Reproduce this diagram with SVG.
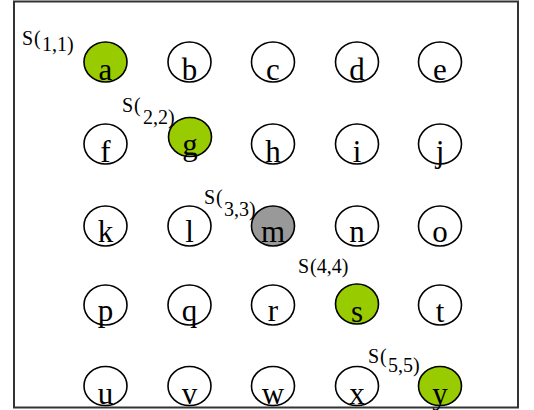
<svg xmlns="http://www.w3.org/2000/svg" width="534" height="410" viewBox="0 0 534 410">
<style>
.n ellipse{fill:#fff;stroke:#000;stroke-width:1.6}
.n.g ellipse{fill:#99cc00}
.n.m ellipse{fill:#999}
.n text{font-family:"Liberation Serif","Times New Roman",serif;font-size:31px;text-anchor:middle;fill:#000}
.lbl{font-family:"Liberation Serif","Times New Roman",serif;font-size:20px;fill:#000}
</style>
<rect x="14" y="1.5" width="504" height="406" fill="#fff" stroke="#333" stroke-width="2"/>
<g id="connectors"/>
<g id="a" class="n g"><ellipse cx="105.5" cy="62" rx="21.5" ry="20"/><text x="105.5" y="80">a</text></g>
<g id="b" class="n"><ellipse cx="189.5" cy="62" rx="21.5" ry="20"/><text x="189.5" y="80">b</text></g>
<g id="c" class="n"><ellipse cx="273" cy="62" rx="21.5" ry="20"/><text x="273" y="80">c</text></g>
<g id="d" class="n"><ellipse cx="357" cy="62" rx="21.5" ry="20"/><text x="357" y="80">d</text></g>
<g id="e" class="n"><ellipse cx="440" cy="62" rx="21.5" ry="20"/><text x="440" y="80">e</text></g>
<g id="f" class="n"><ellipse cx="105.5" cy="144" rx="21.5" ry="20"/><text x="105.5" y="162">f</text></g>
<g id="g" class="n g"><ellipse cx="190" cy="137" rx="21.5" ry="19.5"/><text x="190" y="155">g</text></g>
<g id="h" class="n"><ellipse cx="273" cy="144" rx="21.5" ry="20"/><text x="273" y="162">h</text></g>
<g id="i" class="n"><ellipse cx="357" cy="144" rx="21.5" ry="20"/><text x="357" y="162">i</text></g>
<g id="j" class="n"><ellipse cx="440" cy="144" rx="21.5" ry="20"/><text x="440" y="162">j</text></g>
<g id="k" class="n"><ellipse cx="105.5" cy="226" rx="21.5" ry="20"/><text x="105.5" y="242">k</text></g>
<g id="l" class="n"><ellipse cx="189.5" cy="226" rx="21.5" ry="20"/><text x="189.5" y="242">l</text></g>
<g id="m" class="n m"><ellipse cx="273" cy="226" rx="21.5" ry="20"/><text x="273" y="242">m</text></g>
<g id="n" class="n"><ellipse cx="357" cy="226" rx="21.5" ry="20"/><text x="357" y="242">n</text></g>
<g id="o" class="n"><ellipse cx="440" cy="226" rx="21.5" ry="20"/><text x="440" y="242">o</text></g>
<g id="p" class="n"><ellipse cx="105.5" cy="305" rx="21.5" ry="20"/><text x="105.5" y="321">p</text></g>
<g id="q" class="n"><ellipse cx="189.5" cy="305" rx="21.5" ry="20"/><text x="189.5" y="321">q</text></g>
<g id="r" class="n"><ellipse cx="273" cy="305" rx="21.5" ry="20"/><text x="273" y="321">r</text></g>
<g id="s" class="n g"><ellipse cx="357" cy="304" rx="21.5" ry="20"/><text x="357" y="322">s</text></g>
<g id="t" class="n"><ellipse cx="440" cy="305" rx="21.5" ry="20"/><text x="440" y="322">t</text></g>
<g id="u" class="n"><ellipse cx="105.5" cy="386" rx="21.5" ry="19.5"/><text x="105.5" y="404">u</text></g>
<g id="v" class="n"><ellipse cx="189.5" cy="386" rx="21.5" ry="19.5"/><text x="189.5" y="404">v</text></g>
<g id="w" class="n"><ellipse cx="273" cy="386" rx="21.5" ry="19.5"/><text x="273" y="404">w</text></g>
<g id="x" class="n"><ellipse cx="357" cy="386" rx="21.5" ry="19.5"/><text x="357" y="404">x</text></g>
<g id="y" class="n g"><ellipse cx="440" cy="386" rx="21.5" ry="19.5"/><text x="440" y="404">y</text></g>
<g id="labels">
<text class="lbl" x="22" y="45">S<tspan x="34">(</tspan><tspan x="42" y="51">1,1)</tspan></text>
<text class="lbl" x="122" y="112">S<tspan x="134">(</tspan><tspan x="143" y="124">2,2)</tspan></text>
<text class="lbl" x="204" y="204">S<tspan x="216">(</tspan><tspan x="224" y="216">3,3)</tspan></text>
<text class="lbl" x="298" y="273">S<tspan x="310">(4,4)</tspan></text>
<text class="lbl" x="368" y="363">S<tspan x="380">(</tspan><tspan x="388" y="372">5,5)</tspan></text>
</g>
</svg>
